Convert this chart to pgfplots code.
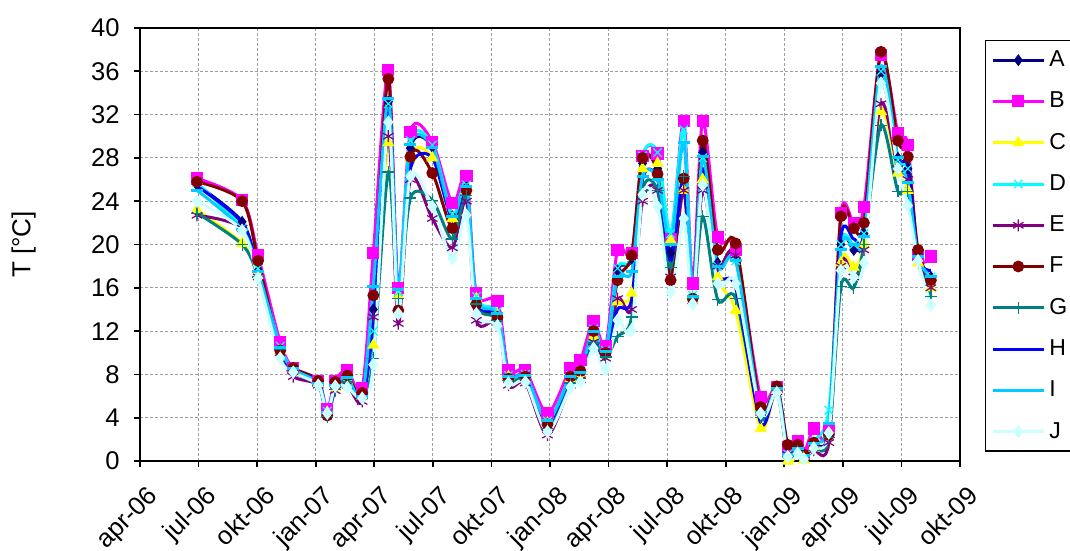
\documentclass[border=0pt]{standalone}
\usepackage{fontspec}
\setmainfont{Liberation Sans}
\usepackage{pgfplots}
\pgfplotsset{compat=1.18}
\usepackage{pgfplotstable}

\definecolor{cA}{RGB}{0,0,128}
\definecolor{cB}{RGB}{255,0,255}
\definecolor{cC}{RGB}{255,255,0}
\definecolor{cD}{RGB}{0,255,255}
\definecolor{cE}{RGB}{128,0,128}
\definecolor{cF}{RGB}{128,0,0}
\definecolor{cG}{RGB}{0,128,128}
\definecolor{cH}{RGB}{0,0,255}
\definecolor{cI}{RGB}{0,204,255}
\definecolor{cJ}{RGB}{204,255,255}

\pgfplotstableread{
m     A    B    C    D    E    F    G    H    I    J
2.92  25.5 26.1 23.2 25.7 22.7 25.8 22.9 25.4 25.0 24.0
5.23  22.1 24.1 20.1 21.5 21.5 24.0 20.0 22.0 21.4 21.3
6.05  17.6 19.0 17.2 17.8 17.0 18.5 17.0 17.5 17.5 16.9
7.18  10.4 11.0 10.2 10.6 10.0 10.2 10.3 10.4 10.5 9.5
7.85  8.5  8.6  8.3  8.5  7.8  8.6  8.2  8.4  8.5  8.2
9.13  7.3  7.4  7.1  7.3  7.0  7.4  7.0  7.3  7.2  7.0
9.59  4.4  4.8  4.5  4.6  4.3  4.2  4.1  4.3  4.5  4.4
10.0  7.0  7.4  6.8  7.0  6.5  7.3  6.6  6.9  7.0  6.9
10.62 7.6  8.4  7.5  7.8  7.0  7.9  7.3  7.5  7.7  6.8
11.38 6.0  6.7  6.0  6.2  5.5  6.3  5.8  5.8  6.0  5.8
11.95 14.0 19.2 10.7 12.0 13.3 15.3 9.5  13.0 16.1 8.9
12.72 33.2 36.1 29.4 33.0 30.0 35.3 26.7 33.0 33.5 31.3
13.23 15.5 16.0 15.3 15.6 12.7 13.9 15.0 15.5 15.8 13.6
13.85 28.9 30.4 28.0 29.6 26.0 28.1 24.3 27.0 29.2 26.3
14.97 29.0 29.5 28.0 29.2 22.4 26.6 24.1 28.0 29.0 23.5
16.0  22.6 23.8 22.4 22.8 19.7 21.5 20.5 22.3 22.6 18.7
16.72 25.3 26.3 25.0 25.5 24.0 25.0 24.5 25.0 25.4 22.7
17.23 15.0 15.5 15.0 15.2 13.0 14.5 14.5 14.8 15.0 13.6
18.31 13.5 14.8 13.5 13.8 12.8 13.3 13.0 13.4 13.6 12.5
18.87 7.8  8.4  7.8  7.9  7.0  7.6  7.4  7.8  7.8  7.2
19.74 7.9  8.4  7.8  8.0  7.2  7.8  7.5  7.9  7.9  7.3
20.87 3.6  4.4  3.5  3.7  2.4  3.4  3.0  3.5  3.7  2.7
22.05 7.8  8.6  7.6  7.9  7.0  7.8  7.2  7.7  7.8  6.8
22.56 8.2  9.3  8.0  8.3  7.5  8.3  7.6  8.1  8.2  7.3
23.23 12.0 12.9 11.5 12.2 11.0 12.0 10.9 11.8 12.0 10.4
23.85 10.0 10.6 9.8  10.2 9.5  10.0 9.6  10.0 10.1 8.4
24.46 17.6 19.5 14.7 17.8 15.0 16.7 11.5 14.0 17.0 13.0
25.18 18.7 19.2 15.5 18.8 14.0 19.0 13.3 14.9 17.5 12.1
25.74 27.5 28.2 27.0 28.2 24.0 28.0 25.0 26.0 26.3 24.6
26.51 27.0 28.4 27.5 28.5 25.0 26.5 25.0 26.0 26.0 23.5
27.18 19.2 20.5 20.4 21.0 17.0 16.7 17.9 18.5 20.0 15.6
27.85 26.1 31.4 25.0 30.6 25.0 26.1 26.3 26.0 29.4 22.4
28.31 15.0 16.4 15.0 15.3 14.8 15.0 15.0 15.0 15.2 14.5
28.82 28.5 31.4 26.0 28.0 25.0 29.6 22.6 27.0 28.1 25.5
29.59 18.3 20.7 17.0 18.0 18.0 19.5 14.9 17.4 18.0 16.4
30.51 19.0 19.5 13.9 18.5 19.0 20.1 15.0 16.0 18.5 16.4
31.79 4.5  5.9  3.0  5.0  4.5  5.0  4.0  3.5  4.5  4.4
32.62 6.6  6.8  6.5  6.7  6.4  6.9  6.5  6.6  6.7  6.3
33.18 0.5  1.3  0.0  0.6  0.6  1.5  0.4  0.5  0.6  0.4
33.69 1.2  1.8  0.8  1.3  1.0  1.5  0.9  1.1  1.2  0.7
34.0  0.4  0.7  0.1  0.5  0.5  0.6  0.3  0.4  0.5  0.2
34.51 1.5  3.0  1.2  1.8  1.0  1.7  1.0  1.4  1.6  1.2
35.28 2.8  3.0  2.5  4.7  1.7  2.4  2.2  2.8  3.5  2.6
35.9  20.0 22.9 18.3 20.0 18.0 22.6 16.1 20.7 19.5 17.6
36.56 19.5 22.0 17.9 20.0 17.0 21.5 16.0 20.5 20.0 17.0
37.08 21.0 23.5 20.0 21.0 19.5 22.0 20.0 21.0 20.7 18.3
37.95 35.8 37.5 32.3 36.0 33.0 37.8 31.0 35.0 36.4 34.9
38.82 28.0 30.3 26.6 27.8 27.0 29.6 24.9 28.0 28.0 27.0
39.33 27.0 29.2 25.0 27.0 26.0 28.1 24.9 27.2 25.7 23.6
39.85 19.0 19.0 18.3 18.9 18.8 19.5 18.5 18.8 18.9 18.5
40.51 17.0 18.9 16.0 17.0 16.0 16.7 15.2 17.6 17.0 14.4
}\data

\begin{document}
\begin{tikzpicture}
\begin{axis}[
  scale only axis, width=410pt, height=216.5pt,
  xmin=0, xmax=42, ymin=0, ymax=40,
  xtick={0,3,...,42},
  xticklabels={apr-06,jul-06,okt-06,jan-07,apr-07,jul-07,okt-07,jan-08,apr-08,jul-08,okt-08,jan-09,apr-09,jul-09,okt-09},
  ytick={0,4,...,40},
  grid=major,
  major grid style={gray!75, dash pattern=on 1.5pt off 1pt, line width=0.5pt},
  axis line style={line width=1.2pt},
  tick align=outside, xtick pos=bottom, ytick pos=left,
  major tick length=3pt, tick style={black, line width=0.8pt},
  /pgf/number format/assume math mode=true,
  ticklabel style={font=\fontsize{12.8}{13}\selectfont},
  xticklabel style={yshift=-7pt, xshift=3pt, rotate=45, anchor=north east, inner sep=1pt},
  yticklabel style={inner sep=3pt, xshift=-4pt},
  ylabel={T [°C]},
  ylabel style={font=\fontsize{13}{13}\selectfont, at={(axis description cs:-0.142,0.5)}, anchor=center},
  clip=false,
  legend style={at={(1.03,0.972)}, anchor=north west, draw=black, line width=0.6pt,
    font=\fontsize{11.5}{11.5}\selectfont, row sep=7.2pt, inner sep=3pt},
  legend cell align=left,
  legend image code/.code={\draw[mark repeat=2,mark phase=2,#1] plot coordinates {(0cm,0cm) (0.45cm,0cm) (0.9cm,0cm)};},
  every axis plot/.append style={line width=1.5pt, smooth, tension=0.5},
]
\coordinate (sw) at (rel axis cs:0,0);
\addplot[cA, mark=diamond*, mark size=2.6pt, mark options={solid, fill=cA, line width=0.5pt}] table[x=m,y=A] {\data};
\addlegendentry{A}
\addplot[cB, mark=square*, mark size=2.8pt, mark options={solid, fill=cB, line width=0.5pt}] table[x=m,y=B] {\data};
\addlegendentry{B}
\addplot[cC, mark=triangle*, mark size=3pt, mark options={solid, fill=cC, line width=0.5pt}] table[x=m,y=C] {\data};
\addlegendentry{C}
\addplot[cD, mark=x, mark size=3pt, mark options={solid, line width=0.6pt}] table[x=m,y=D] {\data};
\addlegendentry{D}
\addplot[cE, mark=asterisk, mark size=3pt, mark options={solid, line width=0.6pt}] table[x=m,y=E] {\data};
\addlegendentry{E}
\addplot[cF, mark=*, mark size=2.7pt, mark options={solid, fill=cF, line width=0.5pt}] table[x=m,y=F] {\data};
\addlegendentry{F}
\addplot[cG, mark=+, mark size=3pt, mark options={solid, line width=0.6pt}] table[x=m,y=G] {\data};
\addlegendentry{G}
\addplot[cH] table[x=m,y=H] {\data};
\addlegendentry{H}
\addplot[cI, mark=-, mark size=3pt, mark options={solid, line width=1.5pt}] table[x=m,y=I] {\data};
\addlegendentry{I}
\addplot[cJ, mark=diamond*, mark size=3pt, mark options={solid, fill=cJ, line width=0.5pt}] table[x=m,y=J] {\data};
\addlegendentry{J}
\end{axis}
\pgfresetboundingbox
\path[use as bounding box] ([shift={(-70pt,-45pt)}]sw) rectangle ([shift={(465pt,230.5pt)}]sw);
\end{tikzpicture}
\end{document}
